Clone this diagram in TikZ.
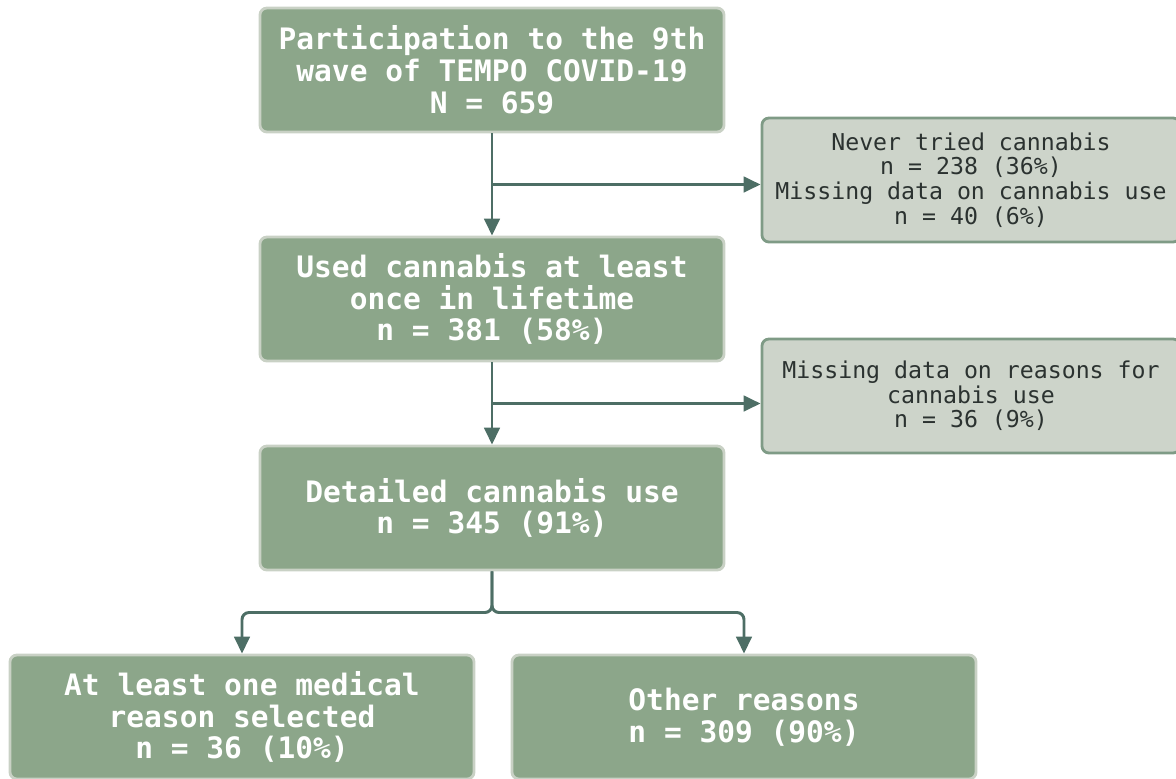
\documentclass[tikz,border=0pt]{standalone}
\usepackage{fontspec}
\setmonofont{DejaVu Sans Mono}
\usetikzlibrary{arrows.meta}
\definecolor{sage}{HTML}{8CA68A}
\definecolor{sageline}{HTML}{C9D1C5}
\definecolor{greylight}{HTML}{CDD4CA}
\definecolor{greyline}{HTML}{7F9B86}
\definecolor{arrowcol}{HTML}{4D6E65}
\definecolor{textdark}{HTML}{2B3230}

\begin{document}
\begin{tikzpicture}[x=0.025cm,y=-0.025cm,
    mainbox/.style={draw=sageline,fill=sage,line width=2pt,rounded corners=5pt,minimum width=11.6cm,minimum height=3.1cm,align=center,text=white,font=\ttfamily\bfseries\fontsize{21}{22.6}\selectfont},
    sidebox/.style={draw=greyline,fill=greylight,line width=2pt,rounded corners=5pt,minimum width=10.45cm,align=center,text=textdark,font=\ttfamily\fontsize{16.5}{17.5}\selectfont},
    flow/.style={draw=arrowcol,line width=2.1pt,-{Triangle[length=12pt,width=11pt]}}]
                \useasboundingbox (0,0) rectangle (1176,778);
                \node[mainbox] (part) at (492,70) {Participation to the 9th\\wave of TEMPO COVID-19\\N = 659};
                \node[mainbox] (used) at (492,299) {Used cannabis at least\\once in lifetime\\n = 381 (58\%)};
                \node[mainbox] (detail) at (492,508) {Detailed cannabis use\\n = 345 (91\%)};
                \node[sidebox,minimum height=3.1cm] (never) at (971,180) {Never tried cannabis\\n = 238 (36\%)\\Missing data on cannabis use\\n = 40 (6\%)};
                \node[sidebox,minimum height=2.85cm] (missing) at (971,396) {Missing data on reasons for\\cannabis use\\n = 36 (9\%)};
                \node[mainbox] (medical) at (242,717) {At least one medical\\reason selected\\n = 36 (10\%)};
                \node[mainbox] (other) at (744,717) {Other reasons\\n = 309 (90\%)};
                \path (part.south) -- (used.north) coordinate[midway] (b1);
                \path (used.south) -- (detail.north) coordinate[midway] (b2);
                \path (detail.south) -- (medical.north -| detail.south) coordinate[midway] (b3);
                \draw[flow] (part.south) -- (used.north);
                \draw[flow] (b1) -- (b1 -| never.west);
                \draw[flow] (used.south) -- (detail.north);
                \draw[flow] (b2) -- (b2 -| missing.west);
                \draw[flow,rounded corners=5pt] (detail.south) -- (b3) -| (medical.north);
                \draw[flow,rounded corners=5pt] (detail.south) -- (b3) -| (other.north);
            \end{tikzpicture}
\end{document}
